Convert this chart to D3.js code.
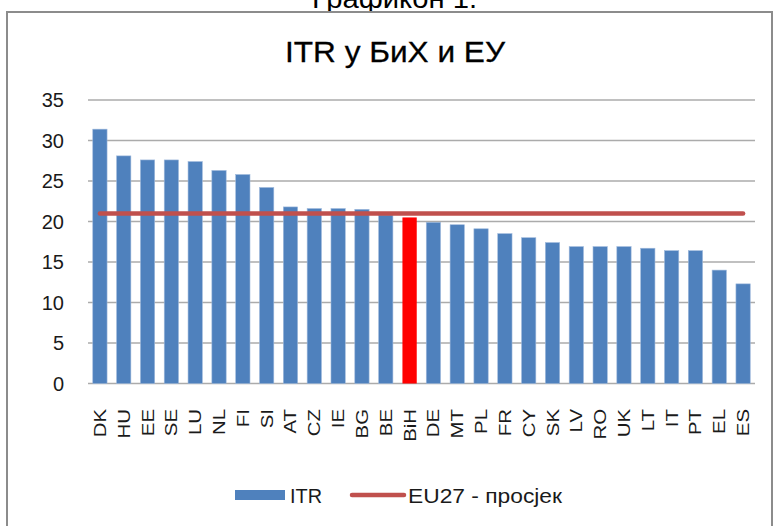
<!DOCTYPE html>
<html>
<head>
<meta charset="utf-8">
<script src="https://cdn.jsdelivr.net/npm/d3@7"></script>
<style>
  html, body { margin: 0; padding: 0; background: #fff; }
  svg { display: block; font-family: "Liberation Sans", Arial, sans-serif; }
</style>
</head>
<body>
<div id="chart"></div>
<script>
(function () {
  'use strict';

  // --- Data ---
  const countries = ['DK', 'HU', 'EE', 'SE', 'LU', 'NL', 'FI', 'SI', 'AT', 'CZ', 'IE', 'BG', 'BE', 'BiH',
    'DE', 'MT', 'PL', 'FR', 'CY', 'SK', 'LV', 'RO', 'UK', 'LT', 'IT', 'PT', 'EL', 'ES'];
  const itrValues = [31.4, 28.1, 27.6, 27.6, 27.4, 26.3, 25.8, 24.2, 21.8, 21.6, 21.6, 21.5, 20.8, 20.5,
    19.9, 19.6, 19.1, 18.5, 18.0, 17.4, 16.9, 16.9, 16.9, 16.7, 16.4, 16.4, 14.0, 12.3];
  const eu27Average = 21.0;
  const yTicks = [0, 5, 10, 15, 20, 25, 30, 35];
  const highlight = 'BiH';

  const W = 774, H = 526;
  const plot = { left: 88, right: 755, top: 100, bottom: 383.5 };

  const svg = d3.select('#chart').append('svg')
    .attr('width', W).attr('height', H);

  // caption above the frame (cut off at top, as in the source)
  svg.append('text')
    .attr('x', 312).attr('y', 8)
    .attr('font-size', 27)
    .attr('textLength', 165).attr('lengthAdjust', 'spacingAndGlyphs')
    .attr('fill', '#000')
    .text('Графикон 1.');

  // chart frame
  svg.append('rect')
    .attr('x', 7).attr('y', 12)
    .attr('width', 765).attr('height', 540)
    .attr('fill', '#fff')
    .attr('stroke', '#8c8c8c')
    .attr('stroke-width', 2);

  // title
  svg.append('text')
    .attr('x', 285).attr('y', 62)
    .attr('font-size', 30)
    .attr('textLength', 220).attr('lengthAdjust', 'spacingAndGlyphs')
    .attr('fill', '#000')
    .attr('stroke', '#000').attr('stroke-width', 0.3)
    .text('ITR у БиХ и ЕУ');

  // --- Scales ---
  const x = d3.scaleBand().domain(countries).range([plot.left, plot.right]).paddingInner(0.4).paddingOuter(0.2);
  const y = d3.scaleLinear().domain([0, 35]).range([plot.bottom, plot.top]);

  // gridlines
  svg.append('g').selectAll('line').data(yTicks).join('line')
    .attr('x1', plot.left).attr('x2', plot.right)
    .attr('y1', d => y(d)).attr('y2', d => y(d))
    .attr('stroke', '#ababab').attr('stroke-width', 1.5);

  // y labels
  svg.append('g').selectAll('text').data(yTicks).join('text')
    .attr('x', 64).attr('y', d => y(d) + 7)
    .attr('text-anchor', 'end')
    .attr('font-size', 20)
    .attr('fill', '#1a1a1a')
    .text(d => d);

  // bars
  svg.append('g').selectAll('rect').data(countries).join('rect')
    .attr('x', d => x(d))
    .attr('y', (d, i) => y(itrValues[i]))
    .attr('width', x.bandwidth())
    .attr('height', (d, i) => y(0) - y(itrValues[i]))
    .attr('fill', d => d === highlight ? '#ff0000' : '#4f81bd')
    .attr('stroke', d => d === highlight ? 'none' : '#9fb9dc')
    .attr('stroke-width', 0.6);

  // EU27 average line
  const avgLine = d3.line().x(d => x(d) + x.bandwidth() / 2).y(() => y(eu27Average));
  svg.append('path')
    .attr('d', avgLine([countries[0], countries[countries.length - 1]]))
    .attr('stroke', '#c0504d').attr('stroke-width', 4.5)
    .attr('stroke-linecap', 'round').attr('fill', 'none');

  // x labels (rotated, stretched along the text like the source)
  svg.append('g').selectAll('text').data(countries).join('text')
    .attr('transform', d => `translate(${x(d) + x.bandwidth() / 2 + 6},409) rotate(-90) scale(1.2,1)`)
    .attr('text-anchor', 'end')
    .attr('font-size', 17)
    .attr('fill', '#1a1a1a')
    .text(d => d);

  // legend
  const lg = svg.append('g');
  lg.append('rect').attr('x', 235).attr('y', 490).attr('width', 50).attr('height', 10).attr('fill', '#4f81bd');
  lg.append('text').attr('x', 290).attr('y', 503).attr('font-size', 20)
    .attr('textLength', 32).attr('lengthAdjust', 'spacingAndGlyphs')
    .attr('fill', '#1a1a1a').text('ITR');
  lg.append('line').attr('x1', 352).attr('x2', 404).attr('y1', 495).attr('y2', 495)
    .attr('stroke', '#c0504d').attr('stroke-width', 4.5).attr('stroke-linecap', 'round');
  lg.append('text').attr('x', 408).attr('y', 503).attr('font-size', 20)
    .attr('textLength', 154).attr('lengthAdjust', 'spacingAndGlyphs')
    .attr('fill', '#1a1a1a').text('EU27 - просјек');
})();
</script>
</body>
</html>
